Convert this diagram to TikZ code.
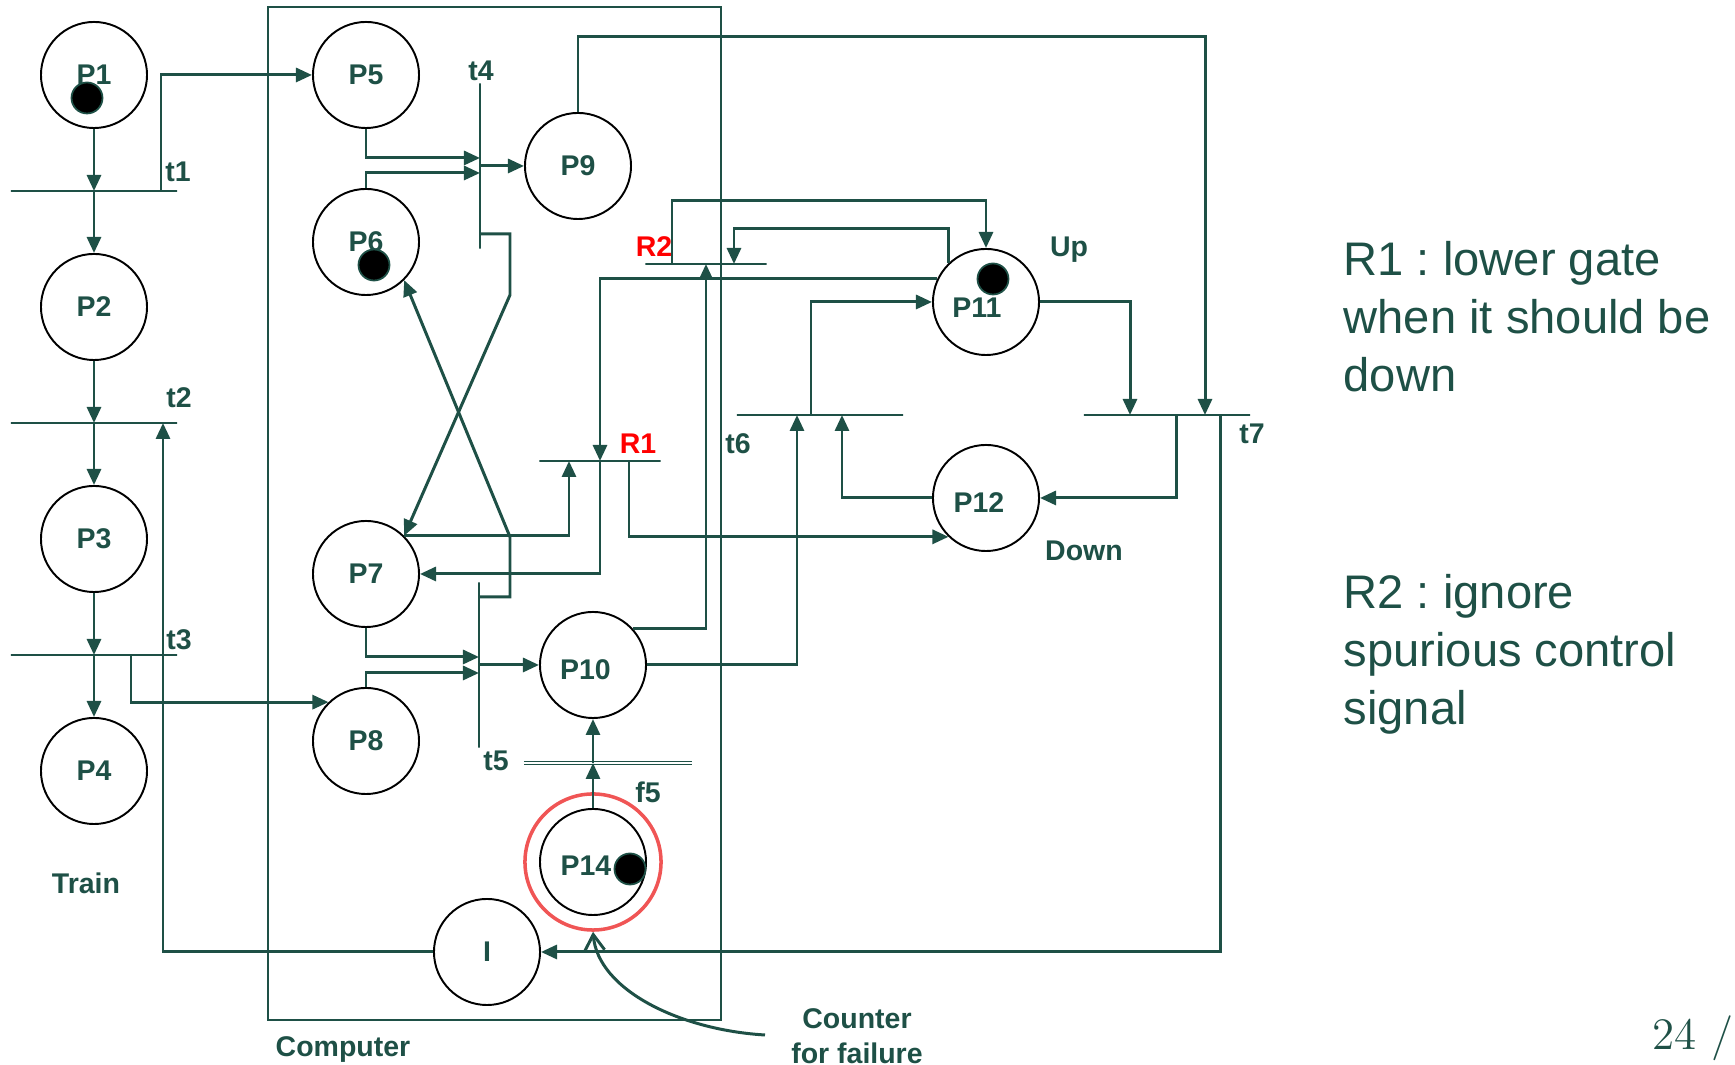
\documentclass[tikz,border=0pt]{standalone}
\usepackage{fontspec}
\usepackage{tikz}
\usetikzlibrary{calc, arrows.meta}
\newfontfamily\arialfont{Liberation Sans}
\definecolor{pn}{RGB}{30,80,70}
\definecolor{ringred}{RGB}{240,85,85}

\begin{document}
\begin{tikzpicture}[x=0.01cm, y=-0.01cm,
        place/.style={circle, draw=black, line width=.55pt, minimum size=1.06cm, inner sep=0pt, text=pn, font=\arialfont\bfseries\fontsize{8.1}{9.7}\selectfont},
        token/.style={circle, fill=black, draw=pn, line width=.5pt, minimum size=.31cm, inner sep=0pt},
        hbar/.style={draw=pn, line width=.55pt, minimum width=#1, minimum height=0pt, inner sep=0pt, outer sep=0pt},
        vbar/.style={draw=pn, line width=.55pt, minimum height=#1, minimum width=0pt, inner sep=0pt, outer sep=0pt},
        lbl/.style={inner sep=0pt, text=pn, font=\arialfont\bfseries\fontsize{8.1}{9.7}\selectfont},
        arc/.style={draw=pn, line width=.85pt, -{Triangle[length=.16cm, width=.14cm]}},
        note/.style={inner sep=0pt, anchor=north west, align=left, text=pn, font=\arialfont\frenchspacing\fontsize{13.4}{16.4}\selectfont}]
        \useasboundingbox (0,0) rectangle (1735,1065);
        \draw[pn, line width=.55pt] (268,7) rectangle (721,1020);
        \node[place] (P1) at (94,75) {P1};
        \node[place] (P2) at (94,307) {P2};
        \node[place] (P3) at (94,539) {P3};
        \node[place] (P4) at (94,771) {P4};
        \node[place] (P5) at (366,75) {P5};
        \node[place] (P6) at (366,242) {P6};
        \node[place] (P7) at (366,574) {P7};
        \node[place] (P8) at (366,741) {P8};
        \node[place] (P9) at (578,166) {P9};
        \node[place, label={[lbl, xshift=-.075cm, yshift=-.05cm]center:P10}] (P10) at (593,665) {};
        \node[place, label={[lbl, xshift=-.09cm, yshift=-.06cm]center:P11}] (P11) at (986,302) {};
        \node[place, label={[lbl, xshift=-.07cm, yshift=-.05cm]center:P12}] (P12) at (986,498) {};
        \node[place, label={[lbl, xshift=-.07cm, yshift=-.04cm]center:P14}] (P14) at (593,862) {};
        \node[place] (I) at (487,952) {I};
        \node[circle, draw=ringred, line width=1pt, minimum size=1.36cm] (ring) at (P14) {};
        \node[hbar=1.66cm] (t1) at (94,191) {};
        \node[hbar=1.66cm] (t2) at (94,423) {};
        \node[hbar=1.66cm] (t3) at (94,655) {};
        \node[vbar=1.65cm] (t4) at (480,166) {};
        \node[vbar=1.65cm] (t5) at (479,665) {};
        \node[hbar=1.66cm] (t6) at (820,415) {};
        \node[hbar=1.66cm] (t7) at (1167,415) {};
        \node[hbar=1.21cm] (R1) at (600,461) {};
        \node[hbar=1.21cm] (R2) at (706,264) {};
        \node[inner sep=0pt, minimum width=1.67cm] (f5) at (608,763) {};
        \draw[pn, double, line width=.4pt, double distance=.6pt] (f5.west) -- (f5.east);
        \coordinate (t1r) at (161,191);
        \coordinate (t2r) at (163,423);
        \coordinate (t3r) at (131,655);
        \coordinate (t4a) at (480,158);
        \coordinate (t4b) at (480,173);
        \coordinate (t4c) at (480,234);
        \coordinate (t5a) at (479,657);
        \coordinate (t5b) at (479,673);
        \coordinate (t5c) at (479,597);
        \coordinate (b4) at (510,295);
        \coordinate (b5) at (510,537);
        \coordinate (r1a) at (569,461);
        \coordinate (r1b) at (629,461);
        \coordinate (r2a) at (672,264);
        \coordinate (r2b) at (734,264);
        \coordinate (t6a) at (797,415);
        \coordinate (t6b) at (811,415);
        \coordinate (t6c) at (842,415);
        \coordinate (t7a) at (1130,415);
        \coordinate (t7b) at (1205,415);
        \coordinate (t7c) at (1176,415);
        \coordinate (t7d) at (1220,415);
        \coordinate (p9top) at (1205,37);
        \coordinate (cs) at (765,1035);
        \draw[arc] (P1) -- (P1 |- t1);
        \draw[arc] (P1 |- t1) -- (P2);
        \draw[arc] (t1r) |- (P5);
        \draw[arc] (P2) -- (P2 |- t2);
        \draw[arc] (P2 |- t2) -- (P3);
        \draw[arc] (P3) -- (P3 |- t3);
        \draw[arc] (P3 |- t3) -- (P4);
        \draw[arc] (t3r) |- (P8.134);
        \draw[arc] (I) -| (t2r);
        \draw[arc] (P5) |- (t4a);
        \draw[arc] (P6) |- (t4b);
        \draw[arc] (t4.center) -- (P9);
        \draw[arc] (t4c) -| (b4) -- (P7.45);
        \draw[arc] (t5c) -| (b5) -- (P6.-45);
        \draw[arc] (P7.45) -| (r1a);
        \draw[arc] (P7) |- (t5a);
        \draw[arc] (P8) |- (t5b);
        \draw[arc] (t5.center) -- (P10);
        \draw[arc] (P11.154) -| (R1.center);
        \draw[arc] (R1.center) |- (P7);
        \draw[arc] (r1b) |- (P12.226);
        \draw[arc] (P10.42) -| (R2.center);
        \draw[arc] (r2a) -- ++(0,-63) -| (P11);
        \draw[arc] (P11.134) -- ++(0,-35) -| (r2b);
        \draw[arc] (P10) -| (t6a);
        \draw[arc] (t6b) |- (P11);
        \draw[arc] (P12) -| (t6c);
        \draw[arc] (P11) -| (t7a);
        \draw[arc] (P9) |- (p9top) -- (t7b);
        \draw[arc] (t7c) |- (P12);
        \draw[arc] (t7d) |- (I);
        \draw[arc] (P14) -- (P14 |- f5);
        \draw[arc] (P14 |- f5) -- (P10);
        \draw[pn, line width=.85pt, -{Straight Barb[length=.16cm, width=.2cm]}] (cs) .. controls (680,1030) and (598,990) .. (ring.south);
        \node[token] (tok1) at (87,98) {};
        \node[token] (tok6) at (374,265) {};
        \node[token] (tok11) at (993,279) {};
        \node[token] (tok14) at (630,869) {};
        \node[lbl] (t1l) at (178,172) {t1};
        \node[lbl] (t2l) at (179,398) {t2};
        \node[lbl] (t3l) at (179,640) {t3};
        \node[lbl] (t4l) at (481,71) {t4};
        \node[lbl] (t5l) at (496,761) {t5};
        \node[lbl] (t6l) at (738,444) {t6};
        \node[lbl] (t7l) at (1252,434) {t7};
        \node[lbl] (f5l) at (648,792) {f5};
        \node[lbl, text=red] (R1l) at (638,444) {R1};
        \node[lbl, text=red] (R2l) at (654,247) {R2};
        \node[lbl] (upl) at (1069,250) {Up};
        \node[lbl] (downl) at (1084,551) {Down};
        \node[lbl] (trainl) at (86,883) {Train};
        \node[lbl] (cpul) at (343,1050) {Computer};
        \node[lbl] (cntl) at (857,1019) {Counter};
        \node[lbl] (faill) at (857,1053) {for failure};
        \node[note] (note1) at (1343,241) {R1 : lower gate\\when it should be\\down};
        \node[note] (note2) at (1343,574) {R2 : ignore\\spurious control\\signal};
        \node[anchor=base west, inner sep=0pt, text=pn, font=\fontsize{12.8}{15}\selectfont] (page) at (1652,1050) {24 /};
    \end{tikzpicture}
\end{document}
